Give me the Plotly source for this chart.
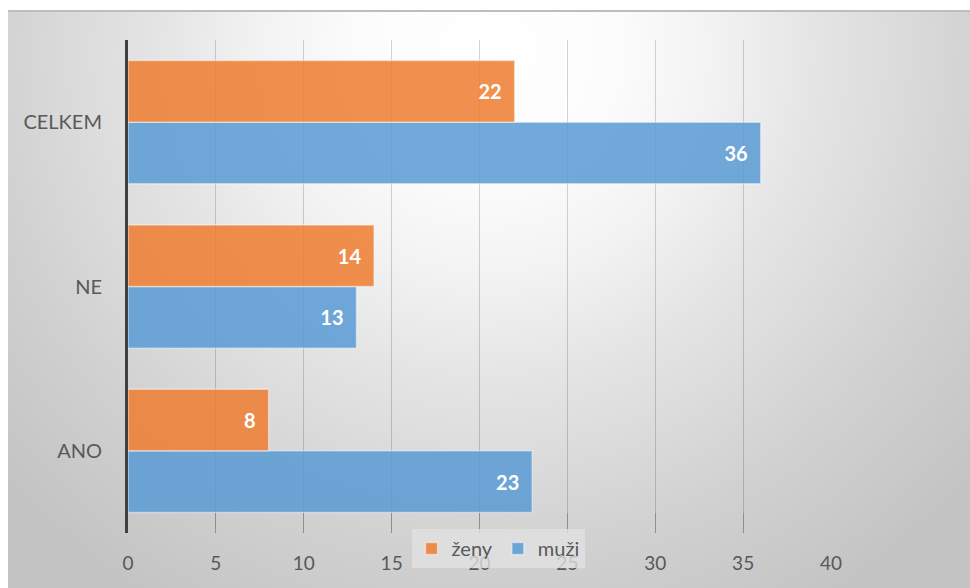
import base64
import plotly.graph_objects as go

# Survey answers split by gender
categories = ["ANO", "NE", "CELKEM"]
zeny = [8, 14, 22]
muzi = [23, 13, 36]
x_ticks = [0, 5, 10, 15, 20, 25, 30, 35, 40]

W, H = 970, 588
L, R, T, B = 128, 139, 40, 55
plot_w = W - L - R
plot_h = H - T - B

# Chart-area backdrop: soft radial grey gradient with a thin top rule
bg_x0, bg_y0 = 8, 10
bg_w, bg_h = W - bg_x0, H - bg_y0
svg = f"""<svg xmlns='http://www.w3.org/2000/svg' width='{bg_w}' height='{bg_h}' viewBox='0 0 {bg_w} {bg_h}' preserveAspectRatio='none'>
<defs><radialGradient id='g' gradientUnits='userSpaceOnUse' cx='480' cy='40' r='640'>
<stop offset='0' stop-color='#ffffff'/>
<stop offset='0.2' stop-color='#fcfcfc'/>
<stop offset='0.36' stop-color='#f2f2f2'/>
<stop offset='0.52' stop-color='#e4e4e4'/>
<stop offset='0.66' stop-color='#dadada'/>
<stop offset='0.78' stop-color='#d1d1d1'/>
<stop offset='1' stop-color='#c4c4c4'/>
</radialGradient></defs>
<rect x='0' y='0' width='{bg_w}' height='{bg_h}' fill='url(#g)'/>
<rect x='0' y='0' width='{bg_w}' height='2' fill='#bdbdbd'/>
</svg>"""
bg_src = "data:image/svg+xml;base64," + base64.b64encode(svg.encode()).decode()

FONT = "Lato, 'Open Sans', sans-serif"
TXT = "#595959"
LABEL_FONT = dict(family=FONT, size=20, color="white", weight="bold")
# value label sits a little in from the bar end
LABEL_TEMPLATE = "%{x}\u2002"

fig = go.Figure()
fig.add_trace(go.Bar(
    y=categories, x=muzi, name="muži", orientation="h",
    marker=dict(color="rgba(91,155,213,0.86)",
                line=dict(color="rgba(255,255,255,0.45)", width=1.5)),
    texttemplate=LABEL_TEMPLATE, textposition="inside", insidetextanchor="end",
    textfont=LABEL_FONT, hoverinfo="x+name",
))
fig.add_trace(go.Bar(
    y=categories, x=zeny, name="ženy", orientation="h",
    marker=dict(color="rgba(237,125,49,0.86)",
                line=dict(color="rgba(255,255,255,0.45)", width=1.5)),
    texttemplate=LABEL_TEMPLATE, textposition="inside", insidetextanchor="end",
    textfont=LABEL_FONT, hoverinfo="x+name",
))

fig.update_layout(
    width=W, height=H,
    margin=dict(l=L, r=R, t=T, b=B, pad=0),
    paper_bgcolor="white",
    plot_bgcolor="rgba(0,0,0,0)",
    barmode="group", bargap=0.25, bargroupgap=0,
    font=dict(family=FONT, size=19, color=TXT),
    showlegend=True,
    legend=dict(
        orientation="h", traceorder="reversed",
        x=(498 - L) / plot_w, xanchor="center",
        y=(H - B - 529) / plot_h, yanchor="top",
        bgcolor="rgba(226,226,226,0.78)",
        font=dict(family=FONT, size=20, color=TXT),
        itemwidth=30,
    ),
    images=[dict(
        source=bg_src, xref="paper", yref="paper",
        x=(bg_x0 - L) / plot_w, y=(H - B - bg_y0) / plot_h,
        sizex=bg_w / plot_w, sizey=bg_h / plot_h,
        xanchor="left", yanchor="top", sizing="stretch", layer="below",
    )],
    uniformtext=dict(mode=False),
)

fig.update_xaxes(
    range=[0, 40], tickvals=x_ticks, ticktext=[str(v) for v in x_ticks],
    showgrid=True, gridcolor="rgba(0,0,0,0.17)", gridwidth=1,
    zeroline=False, showline=False,
    ticks="inside", ticklen=20, tickcolor="#8f8f8f", tickwidth=1,
    ticklabelstandoff=17,
    tickfont=dict(family=FONT, size=19, color=TXT),
)
fig.update_yaxes(
    categoryorder="array", categoryarray=categories,
    showgrid=False, zeroline=False,
    showline=True, linecolor="#404040", linewidth=3,
    ticks="", ticklabelstandoff=19,
    tickfont=dict(family=FONT, size=20, color=TXT),
)

fig.write_html("out.html")
